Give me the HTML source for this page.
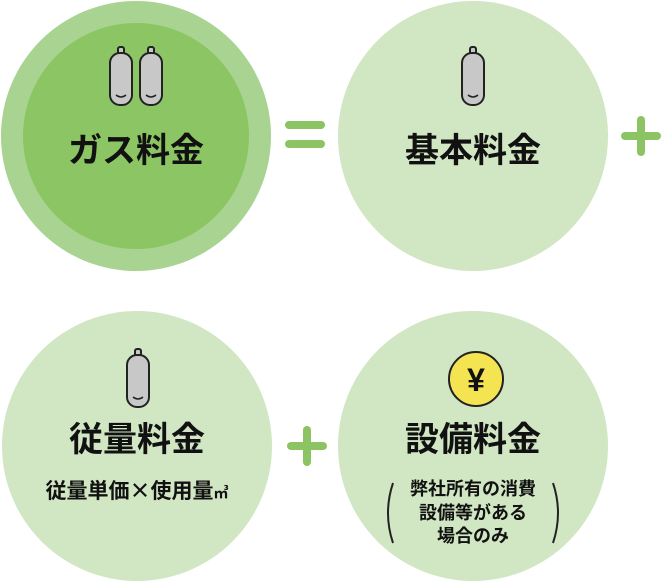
<!DOCTYPE html>
<html><head><meta charset="utf-8"><style>
body{margin:0;width:663px;height:583px;background:#fff;position:relative;overflow:hidden;font-family:"Liberation Sans","Noto Sans CJK JP",sans-serif;}
.c{position:absolute;border-radius:50%;}
.t{position:absolute;width:270px;text-align:center;font-weight:bold;color:#111;}
.bar{position:absolute;background:#8cc464;border-radius:4px;}
.j{font-family:"Noto Sans CJK JP",sans-serif;}
</style></head><body>
<div class="c" style="left:1px;top:1px;width:270px;height:270px;background:#a9d390"></div>
<div class="c" style="left:23px;top:23px;width:226px;height:226px;background:#8cc563"></div>
<div class="c" style="left:338px;top:1px;width:270px;height:270px;background:#d1e6c2"></div>
<div class="c" style="left:2px;top:311px;width:270px;height:270px;background:#d1e6c2"></div>
<div class="c" style="left:338px;top:311px;width:270px;height:270px;background:#d1e6c2"></div>

<svg width="663" height="583" style="position:absolute;left:0;top:0">
<defs><g id="cyl"><rect x="-3" y="0" width="6" height="10" rx="2" fill="#c8c8c8" stroke="#222" stroke-width="2"/><rect x="-11" y="6" width="22" height="52" rx="10" fill="#c8c8c8" stroke="#222" stroke-width="2"/><path d="M-5 48 q5 4 10 0" fill="none" stroke="#222" stroke-width="1.5"/></g></defs>
<use href="#cyl" x="121" y="47"/><use href="#cyl" x="151" y="47"/>
<use href="#cyl" x="473" y="47"/>
<use href="#cyl" x="138" y="349"/>
<circle cx="476" cy="379" r="27" fill="#f4e452" stroke="#222" stroke-width="2"/>
<text x="476" y="391" text-anchor="middle" font-size="32" font-weight="bold" font-family="Liberation Sans,sans-serif" fill="#111">¥</text>
<path d="M393 483 q-10 30 0 60" fill="none" stroke="#222" stroke-width="2"/>
<path d="M553 483 q10 30 0 60" fill="none" stroke="#222" stroke-width="2"/>
</svg>

<div class="bar" style="left:285px;top:121px;width:40px;height:8px"></div>
<div class="bar" style="left:285px;top:140px;width:40px;height:8px"></div>
<div class="bar" style="left:621px;top:132px;width:40px;height:8px"></div>
<div class="bar" style="left:637px;top:116px;width:8px;height:40px"></div>
<div class="bar" style="left:287px;top:442px;width:40px;height:8px"></div>
<div class="bar" style="left:303px;top:426px;width:8px;height:40px"></div>

<div class="t" style="left:1px;top:131px;font-size:34px;line-height:40px">ガス料金</div>
<div class="t" style="left:338px;top:131px;font-size:34px;line-height:40px">基本料金</div>
<div class="t" style="left:2px;top:420px;font-size:34px;line-height:40px">従量料金</div>
<div class="t j" style="left:2px;top:477px;font-size:21px;line-height:26px">従量単価×使用量<span style="font-size:15px">㎥</span></div>
<div class="t" style="left:338px;top:420px;font-size:34px;line-height:40px">設備料金</div>
<div class="t" style="left:338px;top:478px;font-size:18px;line-height:23.5px">弊社所有の消費<br>設備等がある<br>場合のみ</div>
</body></html>
